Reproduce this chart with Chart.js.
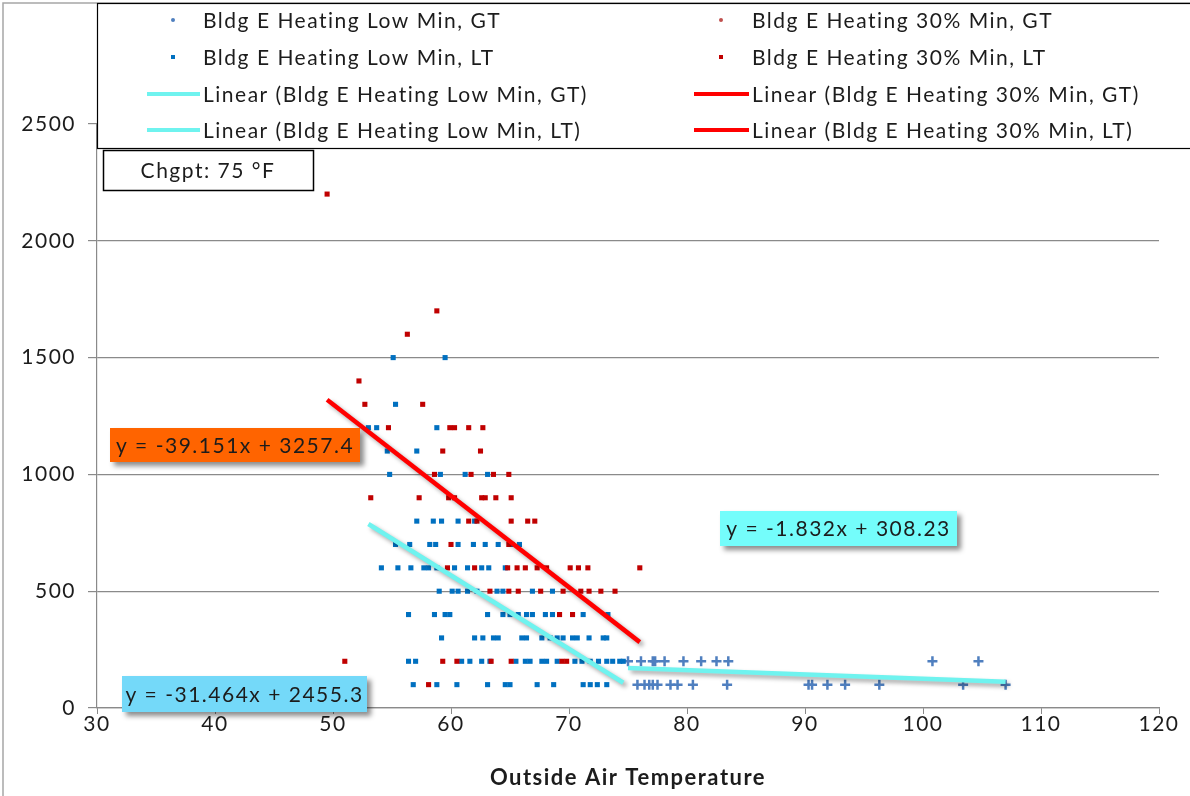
<!DOCTYPE html>
<html>
<head>
<meta charset="utf-8">
<title>Bldg E Heating vs Outside Air Temperature</title>
<script src="https://cdn.jsdelivr.net/npm/chart.js@4.4.1/dist/chart.umd.min.js"></script>
<style>
  html, body { margin: 0; padding: 0; background: #ffffff; }
  #wrap { position: relative; width: 1190px; height: 796px; }
</style>
</head>
<body>
<div id="wrap"><canvas id="chart"></canvas></div>
<script>
// Axis ticks
const xTicks = [30, 40, 50, 60, 70, 80, 90, 100, 110, 120];
const yTicks = [0, 500, 1000, 1500, 2000, 2500];

// Low Min, GT (above the 75 °F change point)
const lowGtTemp = [
  75.0, 76.1, 77.1, 77.3, 78.1, 79.7, 81.2, 82.5, 83.5, 100.8, 104.7,
  75.8, 76.4, 76.8, 77.1, 77.5, 78.6, 79.2, 80.5, 83.4, 90.3, 90.6, 91.9, 93.4, 96.3, 103.4, 107.0
];
const lowGtValue = [
  200, 200, 200, 200, 200, 200, 200, 200, 200, 200, 200,
  100, 100, 100, 100, 100, 100, 100, 100, 100, 100, 100, 100, 100, 100, 100, 100
];

// 30% Min, GT (no readings)
const pctGtTemp = [];
const pctGtValue = [];

// Low Min, LT (below the change point)
const lowLtTemp = [
  55.1, 59.5,
  55.3,
  53.0, 53.7, 58.8,
  54.6, 57.1,
  54.8, 59.1, 61.2, 63.1,
  57.1, 58.5, 59.2, 60.6, 62.0,
  55.3, 56.5, 58.2, 58.7, 60.6, 61.9, 62.9, 64.0, 65.2, 65.8,
  54.1, 55.5, 56.6, 57.7, 58.1, 58.8, 60.3, 61.4, 62.6, 63.2, 64.6,
  59.0, 60.1, 60.6, 61.4, 62.2, 63.9, 64.4, 66.9, 68.6,
  56.4, 58.6, 59.5, 59.9, 63.1, 64.4, 65.0, 65.7, 66.4, 66.9, 68.0, 68.6, 71.2, 73.3,
  59.2, 62.0, 62.7, 63.6, 64.0, 66.0, 66.4, 67.7, 68.4, 69.0, 69.5, 70.3, 70.7, 71.7, 72.9, 73.2,
  56.4, 57.0, 60.9, 61.6, 62.6, 63.3, 65.5, 66.3, 66.7, 67.7, 68.1, 69.0, 70.5, 71.1, 71.8, 72.5, 73.2, 73.7, 74.3, 74.6,
  56.8, 58.8, 60.5, 63.1, 64.6, 65.0, 67.3, 68.7, 71.2, 71.8, 72.4, 73.2
];
const lowLtValue = [
  1500, 1500,
  1300,
  1200, 1200, 1200,
  1100, 1100,
  1000, 1000, 1000, 1000,
  800, 800, 800, 800, 800,
  700, 700, 700, 700, 700, 700, 700, 700, 700, 700,
  600, 600, 600, 600, 600, 600, 600, 600, 600, 600, 600,
  500, 500, 500, 500, 500, 500, 500, 500, 500,
  400, 400, 400, 400, 400, 400, 400, 400, 400, 400, 400, 400, 400, 400,
  300, 300, 300, 300, 300, 300, 300, 300, 300, 300, 300, 300, 300, 300, 300, 300,
  200, 200, 200, 200, 200, 200, 200, 200, 200, 200, 200, 200, 200, 200, 200, 200, 200, 200, 200, 200,
  100, 100, 100, 100, 100, 100, 100, 100, 100, 100, 100, 100
];

// 30% Min, LT
const pctLtTemp = [
  49.5,
  58.8,
  56.3,
  52.2,
  52.7, 57.6,
  54.7, 59.9, 60.3, 61.5, 62.7,
  59.3, 62.5,
  58.6, 61.7, 63.6, 64.9,
  53.2, 57.3, 59.8, 60.3, 62.6, 62.9, 63.8, 65.1,
  61.5, 62.2, 65.1, 66.5, 67.1,
  60.0, 64.9,
  59.7, 62.0, 64.8, 65.6, 66.3, 67.3, 68.1, 70.1, 70.8, 71.6, 76.0,
  63.3, 64.9, 65.7, 67.6, 69.5, 71.0, 71.7, 72.7, 73.9,
  69.2, 70.3,
  51.0, 59.3, 60.5, 63.4, 65.1, 69.4, 69.8,
  58.1
];
const pctLtValue = [
  2200,
  1700,
  1600,
  1400,
  1300, 1300,
  1200, 1200, 1200, 1200, 1200,
  1100, 1100,
  1000, 1000, 1000, 1000,
  900, 900, 900, 900, 900, 900, 900, 900,
  800, 800, 800, 800, 800,
  700, 700,
  600, 600, 600, 600, 600, 600, 600, 600, 600, 600, 600,
  500, 500, 500, 500, 500, 500, 500, 500, 500,
  400, 400,
  200, 200, 200, 200, 200, 200, 200,
  100
];

// Linear fits: Low Min GT, Low Min LT, 30% Min LT
const fitSlope = [-1.832, -31.464, -39.151];
const fitIntercept = [308.23, 2455.3, 3257.4];

const FONT = 'Lato, "Open Sans", sans-serif';
const SPACING = '1.5px';
const TEXT = '#1c1c1c';
const LOW_BLUE = '#0070c0';
const PCT_RED = '#c00000';
const GT_BLUE = '#4f7fbf';
const FIT_CYAN = '#6ff3ef';
const FIT_RED = '#ff0000';

function points(xs, ys) {
  return xs.map((x, i) => ({ x: x, y: ys[i] }));
}
function fitLine(xs, k) {
  if (!xs.length) return [];
  const lo = Math.min(...xs), hi = Math.max(...xs);
  return [lo, hi].map(x => ({ x: x, y: fitSlope[k] * x + fitIntercept[k] }));
}
function equation(k) {
  return 'y = ' + fitSlope[k] + 'x + ' + fitIntercept[k];
}

const datasets = [
  { label: 'Bldg E Heating Low Min, GT', data: points(lowGtTemp, lowGtValue),
    pointStyle: 'cross', pointRadius: 5, borderColor: GT_BLUE, backgroundColor: GT_BLUE,
    pointBorderWidth: 2.5, showLine: false, order: 6 },
  { label: 'Bldg E Heating 30% Min, GT', data: points(pctGtTemp, pctGtValue),
    pointStyle: 'circle', pointRadius: 2, borderColor: '#c0504d', backgroundColor: '#c0504d',
    showLine: false, order: 5 },
  { label: 'Bldg E Heating Low Min, LT', data: points(lowLtTemp, lowLtValue),
    pointStyle: 'rect', pointRadius: 3.6, pointBorderWidth: 0, borderColor: LOW_BLUE,
    backgroundColor: LOW_BLUE, showLine: false, order: 4 },
  { label: 'Bldg E Heating 30% Min, LT', data: points(pctLtTemp, pctLtValue),
    pointStyle: 'rect', pointRadius: 3.6, pointBorderWidth: 0, borderColor: PCT_RED,
    backgroundColor: PCT_RED, showLine: false, order: 3 },
  { label: 'Linear (Bldg E Heating Low Min, GT)', data: fitLine(lowGtTemp, 0), fit: true,
    showLine: true, borderColor: FIT_CYAN, borderWidth: 4.5, pointRadius: 0, order: 2 },
  { label: 'Linear (Bldg E Heating 30% Min, GT)', data: fitLine(pctGtTemp, 0), fit: true,
    showLine: true, borderColor: FIT_RED, borderWidth: 4.5, pointRadius: 0, order: 2 },
  { label: 'Linear (Bldg E Heating Low Min, LT)', data: fitLine(lowLtTemp, 1), fit: true,
    showLine: true, borderColor: FIT_CYAN, borderWidth: 4.5, pointRadius: 0, order: 1 },
  { label: 'Linear (Bldg E Heating 30% Min, LT)', data: fitLine(pctLtTemp, 2), fit: true,
    showLine: true, borderColor: FIT_RED, borderWidth: 4.5, pointRadius: 0, order: 1 }
];

// Wider letter spacing for every piece of text on the canvas
const spacing = {
  id: 'spacing',
  beforeDraw(chart) { chart.ctx.letterSpacing = SPACING; }
};

// Soft drop shadow under the fitted lines
const fitShadow = {
  id: 'fitShadow',
  beforeDatasetDraw(chart, args) {
    if (!chart.data.datasets[args.index].fit) return;
    const ctx = chart.ctx;
    ctx.save();
    ctx.shadowColor = 'rgba(0,0,0,0.35)';
    ctx.shadowBlur = 4;
    ctx.shadowOffsetX = 3;
    ctx.shadowOffsetY = 3;
  },
  afterDatasetDraw(chart, args) {
    if (!chart.data.datasets[args.index].fit) return;
    chart.ctx.restore();
  }
};

function shadowBox(ctx, x, y, w, h, fill, text) {
  ctx.save();
  ctx.shadowColor = 'rgba(0,0,0,0.45)';
  ctx.shadowBlur = 5;
  ctx.shadowOffsetX = 4;
  ctx.shadowOffsetY = 4;
  ctx.fillStyle = fill;
  ctx.fillRect(x, y, w, h);
  ctx.restore();
  ctx.save();
  ctx.letterSpacing = SPACING;
  ctx.fillStyle = TEXT;
  ctx.font = '21px ' + FONT;
  ctx.textAlign = 'center';
  ctx.textBaseline = 'middle';
  ctx.fillText(text, x + w / 2, y + h / 2 + 1);
  ctx.restore();
}

// Legend panel, change-point note and fit equations
const annotations = {
  id: 'annotations',
  afterDraw(chart) {
    const ctx = chart.ctx;
    ctx.save();
    ctx.letterSpacing = SPACING;
    // outer frame
    ctx.strokeStyle = '#a6a6a6';
    ctx.lineWidth = 1.5;
    ctx.beginPath();
    ctx.moveTo(3, 796); ctx.lineTo(3, 3); ctx.lineTo(1190, 3);
    ctx.stroke();

    // legend panel
    ctx.fillStyle = '#ffffff';
    ctx.fillRect(97, 3, 1100, 145);
    ctx.strokeStyle = '#000000';
    ctx.lineWidth = 1.2;
    ctx.strokeRect(97.5, 3.5, 1100, 145);

    const ds = chart.data.datasets;
    const cols = [{ mark: 173, l0: 147, l1: 200, text: 203 }, { mark: 721, l0: 694, l1: 749, text: 752 }];
    const rows = [20, 57, 94, 130];
    const cells = [
      [0, 0, 0], [1, 0, 1], [0, 1, 2], [1, 1, 3],
      [0, 2, 4], [1, 2, 5], [0, 3, 6], [1, 3, 7]
    ];
    ctx.font = '21px ' + FONT;
    ctx.textBaseline = 'middle';
    ctx.textAlign = 'left';
    cells.forEach(([c, r, i]) => {
      const col = cols[c], y = rows[r], d = ds[i];
      if (d.fit) {
        ctx.strokeStyle = d.borderColor;
        ctx.lineWidth = 4;
        ctx.beginPath(); ctx.moveTo(col.l0, y); ctx.lineTo(col.l1, y); ctx.stroke();
      } else if (d.pointStyle === 'rect') {
        ctx.fillStyle = d.backgroundColor;
        ctx.fillRect(col.mark - 2, y - 2, 4, 4);
      } else {
        ctx.fillStyle = d.backgroundColor;
        ctx.beginPath(); ctx.arc(col.mark, y, 2, 0, Math.PI * 2); ctx.fill();
      }
      ctx.fillStyle = TEXT;
      ctx.fillText(d.label, col.text, y + 1);
    });

    // change-point note
    ctx.fillStyle = '#ffffff';
    ctx.fillRect(103, 150, 210, 41);
    ctx.strokeStyle = '#000000';
    ctx.lineWidth = 1.5;
    ctx.strokeRect(103.5, 150.5, 210, 40);
    ctx.fillStyle = TEXT;
    ctx.textAlign = 'center';
    ctx.fillText('Chgpt: 75 \u00B0F', 208, 171);
    ctx.restore();

    // fit equations
    shadowBox(ctx, 110, 428, 250, 34, '#ff6400', equation(2));
    shadowBox(ctx, 720, 511, 237, 35, '#74fdfb', equation(0));
    shadowBox(ctx, 122, 676, 245, 36, '#74d9f9', equation(1));
  }
};

new Chart(document.getElementById('chart'), {
  type: 'scatter',
  data: { datasets: datasets },
  options: {
    responsive: true,
    maintainAspectRatio: false,
    animation: false,
    layout: { padding: { top: 124, right: 31, bottom: 0, left: 0 } },
    plugins: { legend: { display: false }, tooltip: { enabled: false } },
    scales: {
      x: {
        type: 'linear', min: xTicks[0], max: xTicks[xTicks.length - 1],
        afterFit(scale) { scale.height = 88; },
        afterBuildTicks(scale) { scale.ticks = xTicks.map(v => ({ value: v })); },
        ticks: { color: TEXT, font: { family: FONT, size: 21 }, padding: -2,
                 callback: v => String(v) },
        grid: { drawOnChartArea: false, drawTicks: true, tickLength: 6, color: '#8a8a8a' },
        border: { color: '#8a8a8a', width: 1.2 },
        title: { display: true, text: 'Outside Air Temperature', color: TEXT,
                 font: { family: FONT, size: 22, weight: 'bold' }, padding: { top: 4, bottom: 5 } }
      },
      y: {
        type: 'linear', min: yTicks[0], max: yTicks[yTicks.length - 1],
        afterFit(scale) { scale.width = 97; },
        afterBuildTicks(scale) { scale.ticks = yTicks.map(v => ({ value: v })); },
        ticks: { color: TEXT, font: { family: FONT, size: 21 }, padding: 12,
                 callback: v => String(v) },
        grid: { color: '#8a8a8a', lineWidth: 1.2, drawTicks: true, tickLength: 9 },
        border: { color: '#8a8a8a', width: 1.2 }
      }
    }
  },
  plugins: [spacing, fitShadow, annotations]
});
</script>
</body>
</html>
